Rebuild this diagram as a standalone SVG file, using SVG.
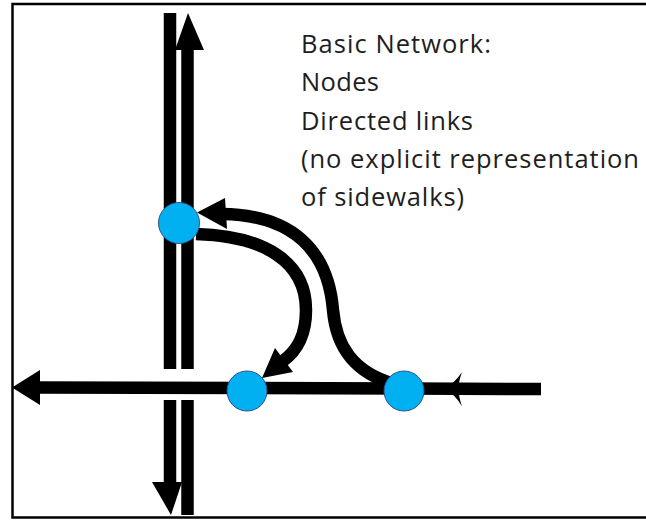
<svg xmlns="http://www.w3.org/2000/svg" width="646" height="520" viewBox="0 0 646 520">
  <style>
    .frame { fill: none; stroke: #000; stroke-width: 2.5; }
    .link { fill: none; stroke: #000; stroke-width: 12.5; }
    .head { fill: #000; stroke: none; }
    .node { fill: #00b0f0; stroke: #2f528f; stroke-width: 1; }
    .label { font-family: "Open Sans", "Noto Sans", "Liberation Sans", sans-serif; font-size: 25.5px; fill: #1e1e1e; }
  </style>

  <!-- open frame: top, left and bottom edges -->
  <path class="frame" d="M 646,4 H 12.5 V 517.5 H 646"/>

  <!-- directed links -->
  <g id="connectors">
    <!-- vertical street, downward lane (with gap at the cross street) -->
    <g id="link-down">
      <line class="link" x1="170" y1="13" x2="170" y2="369"/>
      <line class="link" x1="170" y1="400" x2="170" y2="484"/>
      <polygon class="head" points="152,482 182,482 171,515"/>
    </g>
    <!-- vertical street, upward lane -->
    <g id="link-up">
      <line class="link" x1="187.5" y1="515" x2="187.5" y2="400"/>
      <line class="link" x1="187.5" y1="369" x2="187.5" y2="48"/>
      <polygon class="head" points="175,50 204,50 188,13"/>
    </g>
    <!-- horizontal street, westbound -->
    <g id="link-west">
      <line class="link" x1="36" y1="387.5" x2="247" y2="388"/>
      <polygon class="head" points="40,370 40,405 12,387.5"/>
    </g>
    <g id="link-mid">
      <line class="link" x1="247" y1="388" x2="404" y2="388.5"/>
    </g>
    <g id="link-east-in">
      <line class="link" x1="541" y1="389" x2="404" y2="388.5"/>
      <path class="head" d="M 444,388.5 Q 455,383 462,372 Q 458,383 459,388.5 Q 458,395 462,406.5 Q 455,394 444,388.5 Z"/>
    </g>
    <!-- ramp from east node back up to the north node -->
    <g id="link-ramp-up">
      <path class="link" d="M 394,384 C 352,372 336,345 333,310 C 328,250 292,215 222,214"/>
      <polygon class="head" points="225,198 227,229 197,212.5"/>
    </g>
    <!-- ramp from north node down to the west node -->
    <g id="link-ramp-down">
      <path class="link" d="M 196,234 C 265,236 306,262 306,310 C 306,335 298,350 283,361"/>
      <polygon class="head" points="293,372 275,348 262,378"/>
    </g>
  </g>

  <!-- nodes -->
  <g id="node-north"><circle class="node" cx="179" cy="223" r="20.5"/></g>
  <g id="node-west"><circle class="node" cx="247" cy="391" r="20"/></g>
  <g id="node-east"><circle class="node" cx="404" cy="391" r="20"/></g>

  <!-- legend text -->
  <g id="legend" class="label">
    <text x="301" y="53" textLength="190" lengthAdjust="spacing">Basic Network:</text>
    <text x="301" y="91" textLength="78" lengthAdjust="spacing">Nodes</text>
    <text x="301" y="129.5" textLength="172" lengthAdjust="spacing">Directed links</text>
    <text x="301" y="167.5" textLength="338" lengthAdjust="spacing">(no explicit representation</text>
    <text x="301" y="205.5" textLength="163" lengthAdjust="spacing">of sidewalks)</text>
  </g>
</svg>
